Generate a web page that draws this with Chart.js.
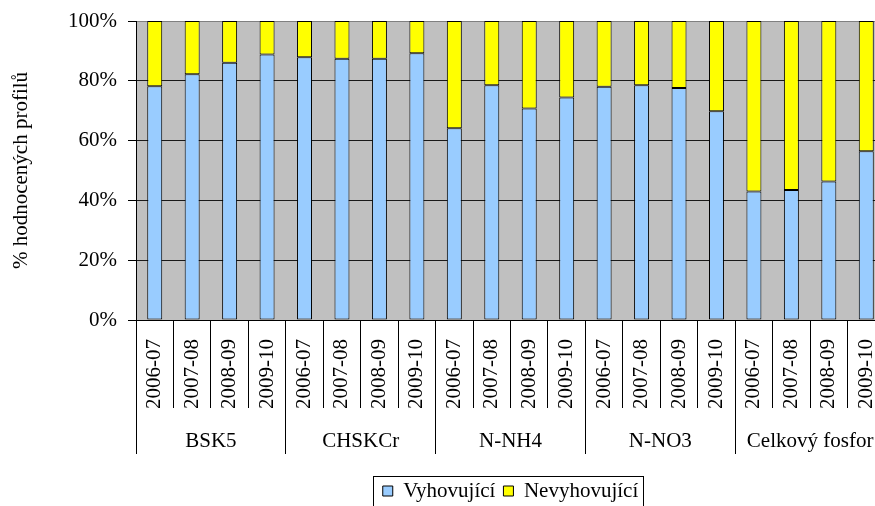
<!DOCTYPE html>
<html>
<head>
<meta charset="utf-8">
<script src="https://cdn.jsdelivr.net/npm/chart.js@4/dist/chart.umd.min.js"></script>
<style>
  html, body { margin: 0; padding: 0; background: #ffffff; overflow: hidden; }
  #wrap { width: 875px; height: 506px; overflow: hidden; }
  canvas { display: block; }
</style>
</head>
<body>
<div id="wrap"><canvas id="c" width="885" height="506"></canvas></div>
<script>
// Indicators and evaluated seasons
const groups = ['BSK5', 'CHSKCr', 'N-NH4', 'N-NO3', 'Celkový fosfor'];
const seasons = ['2006-07', '2007-08', '2008-09', '2009-10'];

// Share of evaluated profiles (%) per indicator and season
const compliant    = [78.2, 82.2, 86.0, 88.8, 87.9, 87.4, 87.4, 89.2, 64.1, 78.5, 70.7, 74.4, 78.0, 78.5, 77.6, 69.8, 43.0, 43.5, 46.3, 56.4];
const nonCompliant = [21.8, 17.8, 14.0, 11.2, 12.1, 12.6, 12.6, 10.8, 35.9, 21.5, 29.3, 25.6, 22.0, 21.5, 22.4, 30.2, 57.0, 56.5, 53.7, 43.6];

const yTicks = [0, 20, 40, 60, 80, 100];
const seriesNames = ['Vyhovující', 'Nevyhovující'];

const labels = [];
groups.forEach(() => seasons.forEach(s => labels.push(s)));

const serif = "'Liberation Serif', 'Times New Roman', serif";
const FS = 21;

// Grey plot background
const plotBackground = {
  id: 'plotBackground',
  beforeDraw(chart) {
    const { ctx, chartArea: a } = chart;
    ctx.save();
    ctx.fillStyle = '#C0C0C0';
    ctx.fillRect(a.left, a.top, a.right - a.left, a.bottom - a.top);
    ctx.restore();
  }
};

// Frame around the legend entries
const legendFrame = {
  id: 'legendFrame',
  afterDraw(chart) {
    const lg = chart.legend;
    if (!lg || !lg.legendHitBoxes || !lg.legendHitBoxes.length) return;
    const boxes = lg.legendHitBoxes;
    const left = Math.min(...boxes.map(b => b.left)) - 10;
    const right = Math.max(...boxes.map(b => b.left + b.width)) + 5;
    const top = Math.min(...boxes.map(b => b.top)) - 5;
    const ctx = chart.ctx;
    ctx.save();
    ctx.strokeStyle = '#000';
    ctx.lineWidth = 1;
    ctx.strokeRect(Math.round(left) + 0.5, Math.round(top) + 0.5, Math.round(right - left), 60);
    ctx.restore();
  }
};

new Chart(document.getElementById('c'), {
  type: 'bar',
  data: {
    labels: labels,
    datasets: [
      {
        label: seriesNames[0],
        data: compliant,
        backgroundColor: '#99CCFF',
        borderColor: '#000',
        borderWidth: 1,
        borderSkipped: false,
        xAxisID: 'x'
      },
      {
        label: seriesNames[1],
        data: nonCompliant,
        backgroundColor: '#FFFF00',
        borderColor: '#000',
        borderWidth: 1,
        borderSkipped: false,
        xAxisID: 'x'
      }
    ]
  },
  options: {
    responsive: false,
    animation: false,
    devicePixelRatio: 1,
    barPercentage: 0.4,
    categoryPercentage: 1,
    layout: { padding: { top: 21, left: 0, right: 0, bottom: -5.5 } },
    plugins: {
      tooltip: { enabled: false },
      legend: {
        position: 'bottom',
        fullSize: false,
        labels: {
          boxWidth: 10,
          boxHeight: 10,
          padding: 8,
          color: '#000',
          font: { family: serif, size: FS }
        }
      }
    },
    scales: {
      x: {
        type: 'category',
        stacked: true,
        offset: true,
        position: 'bottom',
        grid: {
          offset: true,
          drawOnChartArea: false,
          tickLength: 88,
          color: '#000',
          lineWidth: 1
        },
        border: { display: true, color: '#000', width: 1 },
        ticks: {
          autoSkip: false,
          minRotation: 90,
          maxRotation: 90,
          padding: -69,
          color: '#000',
          font: { family: serif, size: FS }
        },
        afterFit(scale) { scale.height = 88; }
      },
      x2: {
        type: 'category',
        labels: groups,
        position: 'bottom',
        offset: true,
        grid: {
          offset: true,
          drawOnChartArea: false,
          tickLength: 46,
          color: '#000',
          lineWidth: 1
        },
        border: { display: false },
        ticks: {
          autoSkip: false,
          maxRotation: 0,
          minRotation: 0,
          padding: -25.6,
          color: '#000',
          font: { family: serif, size: FS }
        },
        afterFit(scale) { scale.height = 64.5; }
      },
      y: {
        stacked: true,
        min: 0,
        max: 100,
        afterBuildTicks(scale) { scale.ticks = yTicks.map(v => ({ value: v })); },
        grid: {
          color: (c) => (c.tick && c.tick.value === 100 ? '#808080' : '#1a1a1a'),
          tickColor: '#000',
          tickLength: 8,
          lineWidth: 1
        },
        border: { display: true, color: '#000', width: 1 },
        ticks: {
          padding: 11,
          color: '#000',
          font: { family: serif, size: FS },
          callback: (v) => v + '%'
        },
        title: {
          display: true,
          text: '% hodnocených profilů',
          color: '#000',
          font: { family: serif, size: FS },
          padding: { top: 9, bottom: 0 }
        },
        afterFit(scale) {
          scale.width = 136;
          scale.paddingTop = 0;
          scale.paddingBottom = 0;
        }
      }
    }
  },
  plugins: [plotBackground, legendFrame]
});
</script>
</body>
</html>
